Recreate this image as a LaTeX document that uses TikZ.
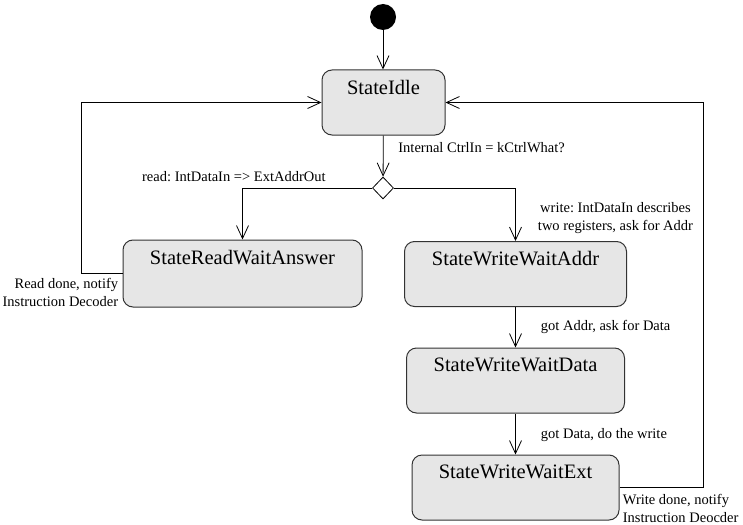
\documentclass[tikz,border=0pt]{standalone}
\usepackage{fontspec}
\setmainfont{Liberation Serif}
\usepackage{xcolor}
\usepackage{tikz}
\usetikzlibrary{arrows.meta,positioning,calc,shapes.geometric}
\definecolor{StBox}{HTML}{E6E6E6}
\definecolor{StLine}{HTML}{333333}
\frenchspacing

\begin{document}
\begin{tikzpicture}[x=1pt, y=-1pt, line width=0.8pt,
  trans/.style={-{Straight Barb[length=13pt,width=12pt,line width=0.8pt]}},
  state/.style={rounded corners=10pt, draw=StLine, fill=StBox, line width=1pt, minimum height=65pt, inner sep=0pt,
    label={[font=\fontsize{20.5}{24}\selectfont, anchor=north, inner sep=0pt, yshift=-10pt]north:#1}},
  guard/.style={font=\fontsize{14.5}{18}\selectfont, inner sep=0pt},
  choice/.style={diamond, draw, fill=white, minimum width=21pt, minimum height=22pt, inner sep=0pt}]

\useasboundingbox (0,0) rectangle (743,524);

\node[circle, fill=black, minimum size=26pt, inner sep=0pt] (init) at (383,17) {};

\node[state={StateIdle}, minimum width=123pt] (idle) at (383.5,102.5) {};
\node[choice] (pick) at (383,188) {};

\node[state={StateReadWaitAnswer}, minimum width=239pt, minimum height=67pt] (read) at (242.5,273.5) {};
\node[state={StateWriteWaitAddr}, minimum width=222pt] (waddr) at (515.5,274) {};
\node[state={StateWriteWaitData}, minimum width=218pt] (wdata) at (515.5,380.5) {};
\node[state={StateWriteWaitExt}, minimum width=207pt] (wext) at (515.5,487.5) {};

\coordinate (lbend) at (81,102.5);
\coordinate (rbend) at (703,102.5);

% transitions
\draw[trans] (init) -- (init |- idle.north);
\draw[trans] (idle) -- (pick);
\draw[trans] (pick.west) -| (read.north);
\draw[trans] (pick.east) -| (waddr.north);
\draw[trans] (waddr) -- (wdata);
\draw[trans] (wdata) -- (wext);
\draw[trans] (read.west) -| (lbend) -- (idle.west);
\draw[trans] (wext.east) -| (rbend) -- (idle.east);

\node[guard, anchor=west] (gctrl) at (398,147.5) {Internal CtrlIn = kCtrlWhat?};
\node[guard, anchor=east] (gread) at (326,177) {read: IntDataIn => ExtAddrOut};
\node[guard, align=center] (gwrite) at (615.5,218.5) {write: IntDataIn describes\\two registers, ask for Addr};
\node[guard, anchor=west] (gaddr) at (540.5,327) {got Addr, ask for Data};
\node[guard, anchor=west] (gdata) at (540.5,435) {got Data, do the write};
\node[guard, anchor=east, align=right] (gdone) at (118.5,292.5) {Read done, notify\\Instruction Decoder};
\node[guard, anchor=west, align=left] (gwdone) at (622.5,508) {Write done, notify\\Instruction Deocder};
\end{tikzpicture}
\end{document}
